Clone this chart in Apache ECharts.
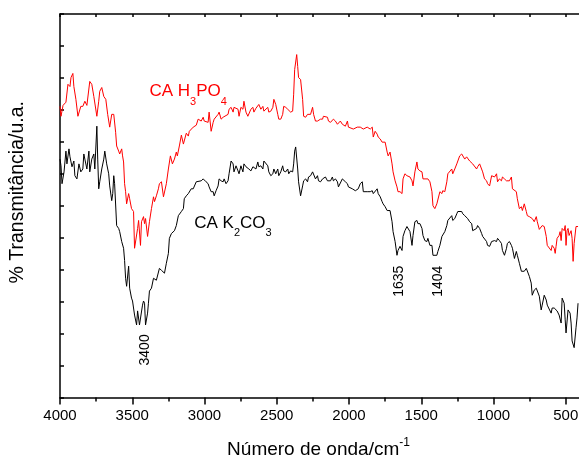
<!DOCTYPE html>
<html><head><meta charset="utf-8">
<script src="https://cdn.jsdelivr.net/npm/echarts@6/dist/echarts.min.js"></script>
<style>html,body{margin:0;padding:0;background:#fff;overflow:hidden;width:579px;height:464px}#c{width:641px;height:464px}</style>
</head><body><div id="c"></div>
<script>
// FTIR spectra: [wavenumber (cm^-1), transmittance (a.u.)]
const spectrumH3PO4 = [[4000,91.1],[3993,88.0],[3979,91.4],[3966,91.7],[3959,92.4],[3945,98.0],[3931,97.3],[3924,100.1],[3911,101.4],[3904,97.3],[3890,93.3],[3876,88.0],[3856,91.1],[3842,91.1],[3828,92.7],[3814,91.4],[3794,98.9],[3780,98.0],[3766,94.2],[3745,88.0],[3732,92.7],[3725,95.8],[3711,97.0],[3697,94.2],[3683,93.3],[3670,88.6],[3656,84.6],[3642,88.6],[3628,88.6],[3615,83.0],[3608,78.7],[3594,77.1],[3587,76.2],[3573,77.8],[3567,75.6],[3560,73.7],[3553,66.9],[3546,64.4],[3539,60.6],[3525,63.8],[3518,62.2],[3505,59.1],[3491,58.2],[3484,46.7],[3477,46.7],[3463,52.9],[3456,55.4],[3443,47.6],[3436,55.0],[3422,56.6],[3415,54.4],[3408,56.0],[3394,50.4],[3388,50.4],[3381,55.0],[3367,59.1],[3353,62.8],[3346,61.3],[3333,63.1],[3319,65.3],[3312,66.9],[3298,67.5],[3284,62.8],[3277,62.2],[3264,66.9],[3250,71.5],[3236,75.6],[3222,73.1],[3208,74.6],[3195,76.8],[3188,75.6],[3174,78.7],[3160,82.1],[3146,79.3],[3140,79.3],[3126,82.7],[3112,81.8],[3105,83.3],[3092,82.7],[3078,84.6],[3057,85.2],[3044,87.1],[3023,86.5],[3009,87.7],[3002,86.5],[2989,87.1],[2975,86.1],[2968,89.3],[2954,83.3],[2940,86.1],[2933,87.1],[2920,87.7],[2906,88.6],[2899,89.3],[2885,87.1],[2871,87.7],[2864,88.0],[2837,88.6],[2830,90.2],[2816,90.8],[2802,89.3],[2796,90.8],[2768,90.2],[2761,88.0],[2748,90.8],[2734,90.2],[2727,92.7],[2713,89.3],[2700,88.0],[2693,87.7],[2679,90.2],[2665,90.8],[2658,89.3],[2644,90.5],[2631,91.1],[2624,91.7],[2610,90.2],[2596,91.1],[2589,89.6],[2576,90.2],[2562,90.8],[2555,89.3],[2541,89.6],[2527,90.8],[2520,93.3],[2507,91.7],[2493,88.6],[2486,87.1],[2472,87.1],[2459,88.6],[2452,91.1],[2438,90.8],[2424,90.2],[2417,89.6],[2404,89.3],[2390,89.6],[2383,94.9],[2376,102.6],[2362,107.3],[2355,103.6],[2349,100.1],[2335,99.5],[2321,93.3],[2314,88.0],[2300,87.7],[2287,88.6],[2266,88.6],[2252,90.8],[2245,88.6],[2232,86.5],[2218,86.5],[2211,86.1],[2197,87.1],[2183,87.1],[2177,88.0],[2149,87.7],[2142,86.5],[2128,86.1],[2115,86.5],[2108,87.1],[2094,86.5],[2080,85.5],[2060,86.5],[2046,85.5],[2039,85.5],[2025,84.9],[2011,86.5],[2004,84.6],[1991,84.6],[1970,84.0],[1943,84.6],[1922,84.6],[1901,84.0],[1874,84.6],[1853,84.0],[1839,84.6],[1832,81.5],[1819,83.3],[1805,82.4],[1798,81.5],[1784,80.9],[1771,79.9],[1750,79.9],[1736,76.8],[1729,75.6],[1716,76.8],[1702,73.1],[1695,70.6],[1681,67.8],[1668,65.9],[1661,64.4],[1647,64.4],[1633,63.8],[1626,68.4],[1613,70.0],[1599,69.4],[1578,69.0],[1564,67.8],[1557,66.2],[1544,70.6],[1530,73.7],[1523,71.5],[1509,70.9],[1495,70.6],[1488,68.4],[1475,68.4],[1454,68.4],[1440,67.5],[1426,64.4],[1419,60.0],[1406,59.1],[1392,60.6],[1371,64.4],[1357,63.8],[1351,64.7],[1337,64.4],[1323,67.5],[1316,70.0],[1303,70.6],[1289,71.5],[1282,70.0],[1268,71.5],[1254,73.1],[1234,75.6],[1220,76.2],[1199,74.6],[1186,75.3],[1165,74.0],[1144,73.1],[1131,73.7],[1117,71.5],[1110,72.2],[1096,73.1],[1075,70.6],[1062,68.4],[1048,67.8],[1041,66.9],[1027,66.2],[1013,69.4],[1006,70.0],[993,69.0],[979,70.0],[972,67.5],[959,68.4],[945,67.8],[938,69.0],[924,68.4],[910,67.8],[904,67.5],[890,67.8],[876,69.0],[869,65.3],[842,64.4],[835,62.2],[821,59.1],[807,59.7],[800,58.5],[787,60.6],[773,58.2],[766,56.9],[752,56.6],[732,56.0],[718,55.0],[704,56.6],[697,55.0],[683,52.6],[670,52.9],[663,53.8],[649,53.5],[635,50.4],[628,47.6],[615,48.2],[601,46.0],[594,47.6],[580,46.7],[573,45.1],[567,47.3],[560,49.8],[546,50.7],[539,51.9],[532,49.1],[525,52.9],[511,52.2],[504,53.8],[498,47.6],[491,52.2],[484,52.9],[477,50.7],[463,52.2],[456,49.8],[449,42.6],[442,48.2],[429,53.5],[415,53.5]];

const spectrumK2CO3 = [[4000,74.6],[3993,72.5],[3986,66.9],[3972,70.6],[3959,77.1],[3952,73.1],[3938,77.8],[3931,75.3],[3917,72.2],[3904,74.0],[3897,69.4],[3883,68.4],[3869,73.1],[3856,70.6],[3842,71.5],[3835,76.2],[3828,74.6],[3814,71.5],[3800,77.1],[3794,70.6],[3780,74.6],[3766,76.2],[3759,71.5],[3745,84.9],[3739,74.6],[3732,65.3],[3725,67.5],[3711,71.5],[3697,74.6],[3690,77.1],[3677,73.1],[3663,70.0],[3656,66.2],[3642,61.6],[3635,63.8],[3628,69.4],[3622,66.9],[3608,53.8],[3594,52.9],[3587,51.9],[3573,48.8],[3560,46.7],[3553,42.9],[3546,37.3],[3539,34.8],[3525,41.1],[3518,34.2],[3505,31.1],[3498,30.2],[3484,25.8],[3470,22.7],[3463,27.1],[3450,22.7],[3429,28.9],[3422,30.2],[3415,29.5],[3408,22.7],[3394,26.4],[3388,29.5],[3381,33.3],[3367,34.2],[3353,37.3],[3333,36.7],[3312,40.4],[3298,39.8],[3277,38.9],[3264,42.0],[3250,45.1],[3243,49.8],[3229,51.3],[3208,52.2],[3195,53.8],[3181,56.9],[3160,58.2],[3146,59.1],[3140,62.2],[3126,63.1],[3112,63.8],[3092,65.3],[3078,65.3],[3057,67.5],[3044,66.9],[3023,67.8],[3009,68.4],[3002,69.0],[2989,67.5],[2975,66.9],[2968,65.9],[2954,64.4],[2940,64.4],[2933,63.1],[2920,64.7],[2906,66.2],[2899,68.4],[2885,67.8],[2871,67.5],[2864,68.4],[2851,66.9],[2837,67.8],[2830,70.0],[2816,74.0],[2802,73.1],[2796,70.6],[2782,72.5],[2768,70.9],[2761,70.0],[2748,72.5],[2734,70.6],[2727,73.1],[2713,72.2],[2700,72.5],[2693,71.5],[2679,70.9],[2665,72.2],[2658,72.5],[2644,71.5],[2631,73.7],[2624,72.2],[2610,72.5],[2596,71.5],[2589,74.0],[2576,73.7],[2562,72.5],[2555,70.6],[2541,69.4],[2527,70.0],[2520,71.5],[2507,70.0],[2493,71.5],[2486,69.4],[2472,70.6],[2459,72.5],[2452,70.9],[2438,70.6],[2424,71.5],[2417,70.0],[2404,70.9],[2390,70.6],[2383,73.1],[2376,77.1],[2369,78.4],[2355,71.5],[2349,67.5],[2335,63.1],[2321,66.2],[2314,67.8],[2300,68.4],[2287,67.5],[2280,69.0],[2266,69.4],[2252,70.6],[2245,70.0],[2232,68.4],[2218,69.4],[2211,67.8],[2197,67.5],[2183,68.4],[2177,67.8],[2163,69.0],[2149,67.8],[2142,67.5],[2128,67.8],[2115,69.0],[2108,67.8],[2094,68.4],[2080,67.5],[2073,65.9],[2060,66.2],[2046,68.4],[2039,69.0],[2025,67.5],[2011,66.9],[2004,65.9],[1991,65.3],[1977,65.3],[1970,65.9],[1956,64.7],[1943,64.7],[1936,65.3],[1922,66.9],[1908,67.5],[1901,64.4],[1888,63.8],[1874,64.4],[1867,64.7],[1853,64.4],[1839,64.7],[1832,63.8],[1819,64.4],[1805,65.3],[1798,63.8],[1784,62.8],[1771,61.3],[1764,60.6],[1750,59.7],[1736,58.5],[1729,59.1],[1716,58.5],[1702,55.0],[1695,51.9],[1681,48.8],[1668,44.5],[1661,46.0],[1647,47.3],[1633,46.0],[1626,50.4],[1613,52.2],[1599,53.5],[1592,53.8],[1578,51.9],[1564,47.6],[1557,50.7],[1544,55.0],[1530,55.4],[1523,54.4],[1509,54.4],[1495,52.9],[1488,50.7],[1475,49.1],[1461,48.8],[1454,49.8],[1440,47.6],[1426,47.6],[1419,44.5],[1406,44.2],[1392,44.5],[1385,45.7],[1371,47.6],[1357,50.4],[1351,50.7],[1337,51.9],[1323,53.8],[1316,55.4],[1303,55.4],[1289,56.9],[1282,55.4],[1268,56.0],[1254,57.5],[1247,58.2],[1234,58.5],[1220,58.2],[1213,57.5],[1199,56.9],[1186,56.6],[1179,56.0],[1165,55.0],[1151,54.4],[1144,52.2],[1131,51.9],[1117,52.9],[1110,53.8],[1096,52.9],[1082,51.3],[1075,50.4],[1062,49.8],[1048,48.8],[1041,47.6],[1027,47.3],[1013,48.8],[1006,48.8],[993,49.1],[979,48.8],[972,49.8],[959,49.1],[945,48.2],[938,46.0],[924,44.5],[910,46.7],[904,48.2],[890,48.8],[876,47.6],[869,46.7],[855,43.5],[842,45.7],[835,44.5],[821,42.0],[807,39.5],[800,39.8],[787,39.5],[773,40.4],[766,39.8],[752,37.9],[739,35.8],[732,32.0],[718,33.6],[704,34.2],[697,33.6],[683,31.7],[670,27.4],[663,28.9],[649,32.0],[635,30.5],[628,28.9],[615,29.5],[601,26.4],[594,28.0],[580,28.0],[567,28.6],[560,27.1],[546,25.8],[532,23.3],[525,31.1],[511,29.5],[504,24.3],[498,20.2],[484,27.4],[470,26.4],[463,23.3],[456,17.7],[442,15.6],[429,21.8],[422,24.9],[415,29.5]];

// Peak annotations (text, [wavenumber, transmittance anchor])
const peakLabels = ['3400', '1635', '1404'];
const peakAnchors = [[3412, 14.9], [1654, 36.4], [1385, 36.4]];
// Series name labels
const seriesNames = ['{m|CA H}{s|3}{m|PO}{s|4}', '{m|CA K}{s|2}{m|CO}{s|3}'];
const seriesNameAnchors = [[3381, 98.4], [3071, 57.2]];
const xTitle = '{m|Número de onda/cm}{sup|-1}';
const yTitle = '% Transmitância/u.a.';

const FONT = 'Liberation Sans, Arial, sans-serif';
const chart = echarts.init(document.getElementById('c'), null, {renderer: 'canvas', width: 641, height: 464});

function nameLabel(text, anchor, color) {
  return {
    coord: anchor, symbol: 'circle', symbolSize: 0,
    itemStyle: {color: 'transparent'},
    label: {
      show: true, position: [0, 0], align: 'left', verticalAlign: 'top',
      formatter: text,
      rich: {
        m: {fontSize: 17, lineHeight: 17, verticalAlign: 'top', color: color, fontFamily: FONT},
        s: {fontSize: 11, lineHeight: 37, color: color, fontFamily: FONT}
      }
    }
  };
}
function peakLabel(text, anchor) {
  return {
    coord: anchor, symbol: 'circle', symbolSize: 0,
    itemStyle: {color: 'transparent'},
    label: {
      show: true, position: [0, 0], align: 'center', verticalAlign: 'middle',
      rotate: 90, formatter: text, fontSize: 14, color: '#000', fontFamily: FONT
    }
  };
}

const axisLineStyle = {color: '#000', width: 1.5};
chart.setOption({
  animation: false,
  backgroundColor: '#fff',
  grid: {left: 58, top: 14, bottom: 64, right: 2},
  xAxis: [{
    type: 'value', position: 'bottom', inverse: true, min: 0, max: 4000, interval: 500,
    axisLine: {show: true, onZero: false, lineStyle: axisLineStyle},
    axisTick: {show: true, inside: false, length: 7, lineStyle: {color: '#000', width: 1.5}},
    minorTick: {show: true, splitNumber: 2, length: 4, lineStyle: {color: '#000', width: 1.5}},
    splitLine: {show: false}, minorSplitLine: {show: false},
    axisLabel: {fontSize: 15, color: '#000', margin: 11, fontFamily: FONT,
      formatter: v => v === 0 ? '' : String(v)},
    name: xTitle, nameLocation: 'middle', nameGap: 39,
    nameTextStyle: {color: '#000', fontFamily: FONT, padding: [0, 61, 0, 0],
      rich: {
        m: {fontSize: 19, lineHeight: 26, color: '#000', fontFamily: FONT},
        sup: {fontSize: 12, lineHeight: 12, verticalAlign: 'top', color: '#000', fontFamily: FONT}
      }}
  }, {
    type: 'value', position: 'top', inverse: true, min: 0, max: 4000, interval: 250,
    axisLine: {show: true, onZero: false, lineStyle: axisLineStyle},
    axisTick: {show: true, inside: true, length: 3, lineStyle: {color: '#000', width: 1.5}},
    axisLabel: {show: false}, splitLine: {show: false}
  }],
  yAxis: [{
    type: 'value', position: 'left', min: 0, max: 120, interval: 10,
    axisLine: {show: true, onZero: false, lineStyle: axisLineStyle},
    axisTick: {show: true, inside: true, length: 4, lineStyle: {color: '#000', width: 1.5}},
    axisLabel: {show: false}, splitLine: {show: false},
    name: yTitle, nameLocation: 'middle', nameGap: 32,
    nameTextStyle: {fontSize: 19.5, color: '#000', fontFamily: FONT, padding: [0, 0, 0, 27]}
  }],
  series: [{
    type: 'line', name: 'CA H3PO4', xAxisIndex: 0, yAxisIndex: 0,
    data: spectrumH3PO4, showSymbol: false, symbol: 'none',
    lineStyle: {color: '#ff0000', width: 1}, itemStyle: {color: '#ff0000'},
    markPoint: {silent: true, animation: false, data: [nameLabel(seriesNames[0], seriesNameAnchors[0], '#ff0000')]}
  }, {
    type: 'line', name: 'CA K2CO3', xAxisIndex: 0, yAxisIndex: 0,
    data: spectrumK2CO3, showSymbol: false, symbol: 'none',
    lineStyle: {color: '#000', width: 1}, itemStyle: {color: '#000'},
    markPoint: {silent: true, animation: false, data: [
      nameLabel(seriesNames[1], seriesNameAnchors[1], '#000'),
      ...peakLabels.map((t, i) => peakLabel(t, peakAnchors[i]))
    ]}
  }]
});
</script></body></html>
